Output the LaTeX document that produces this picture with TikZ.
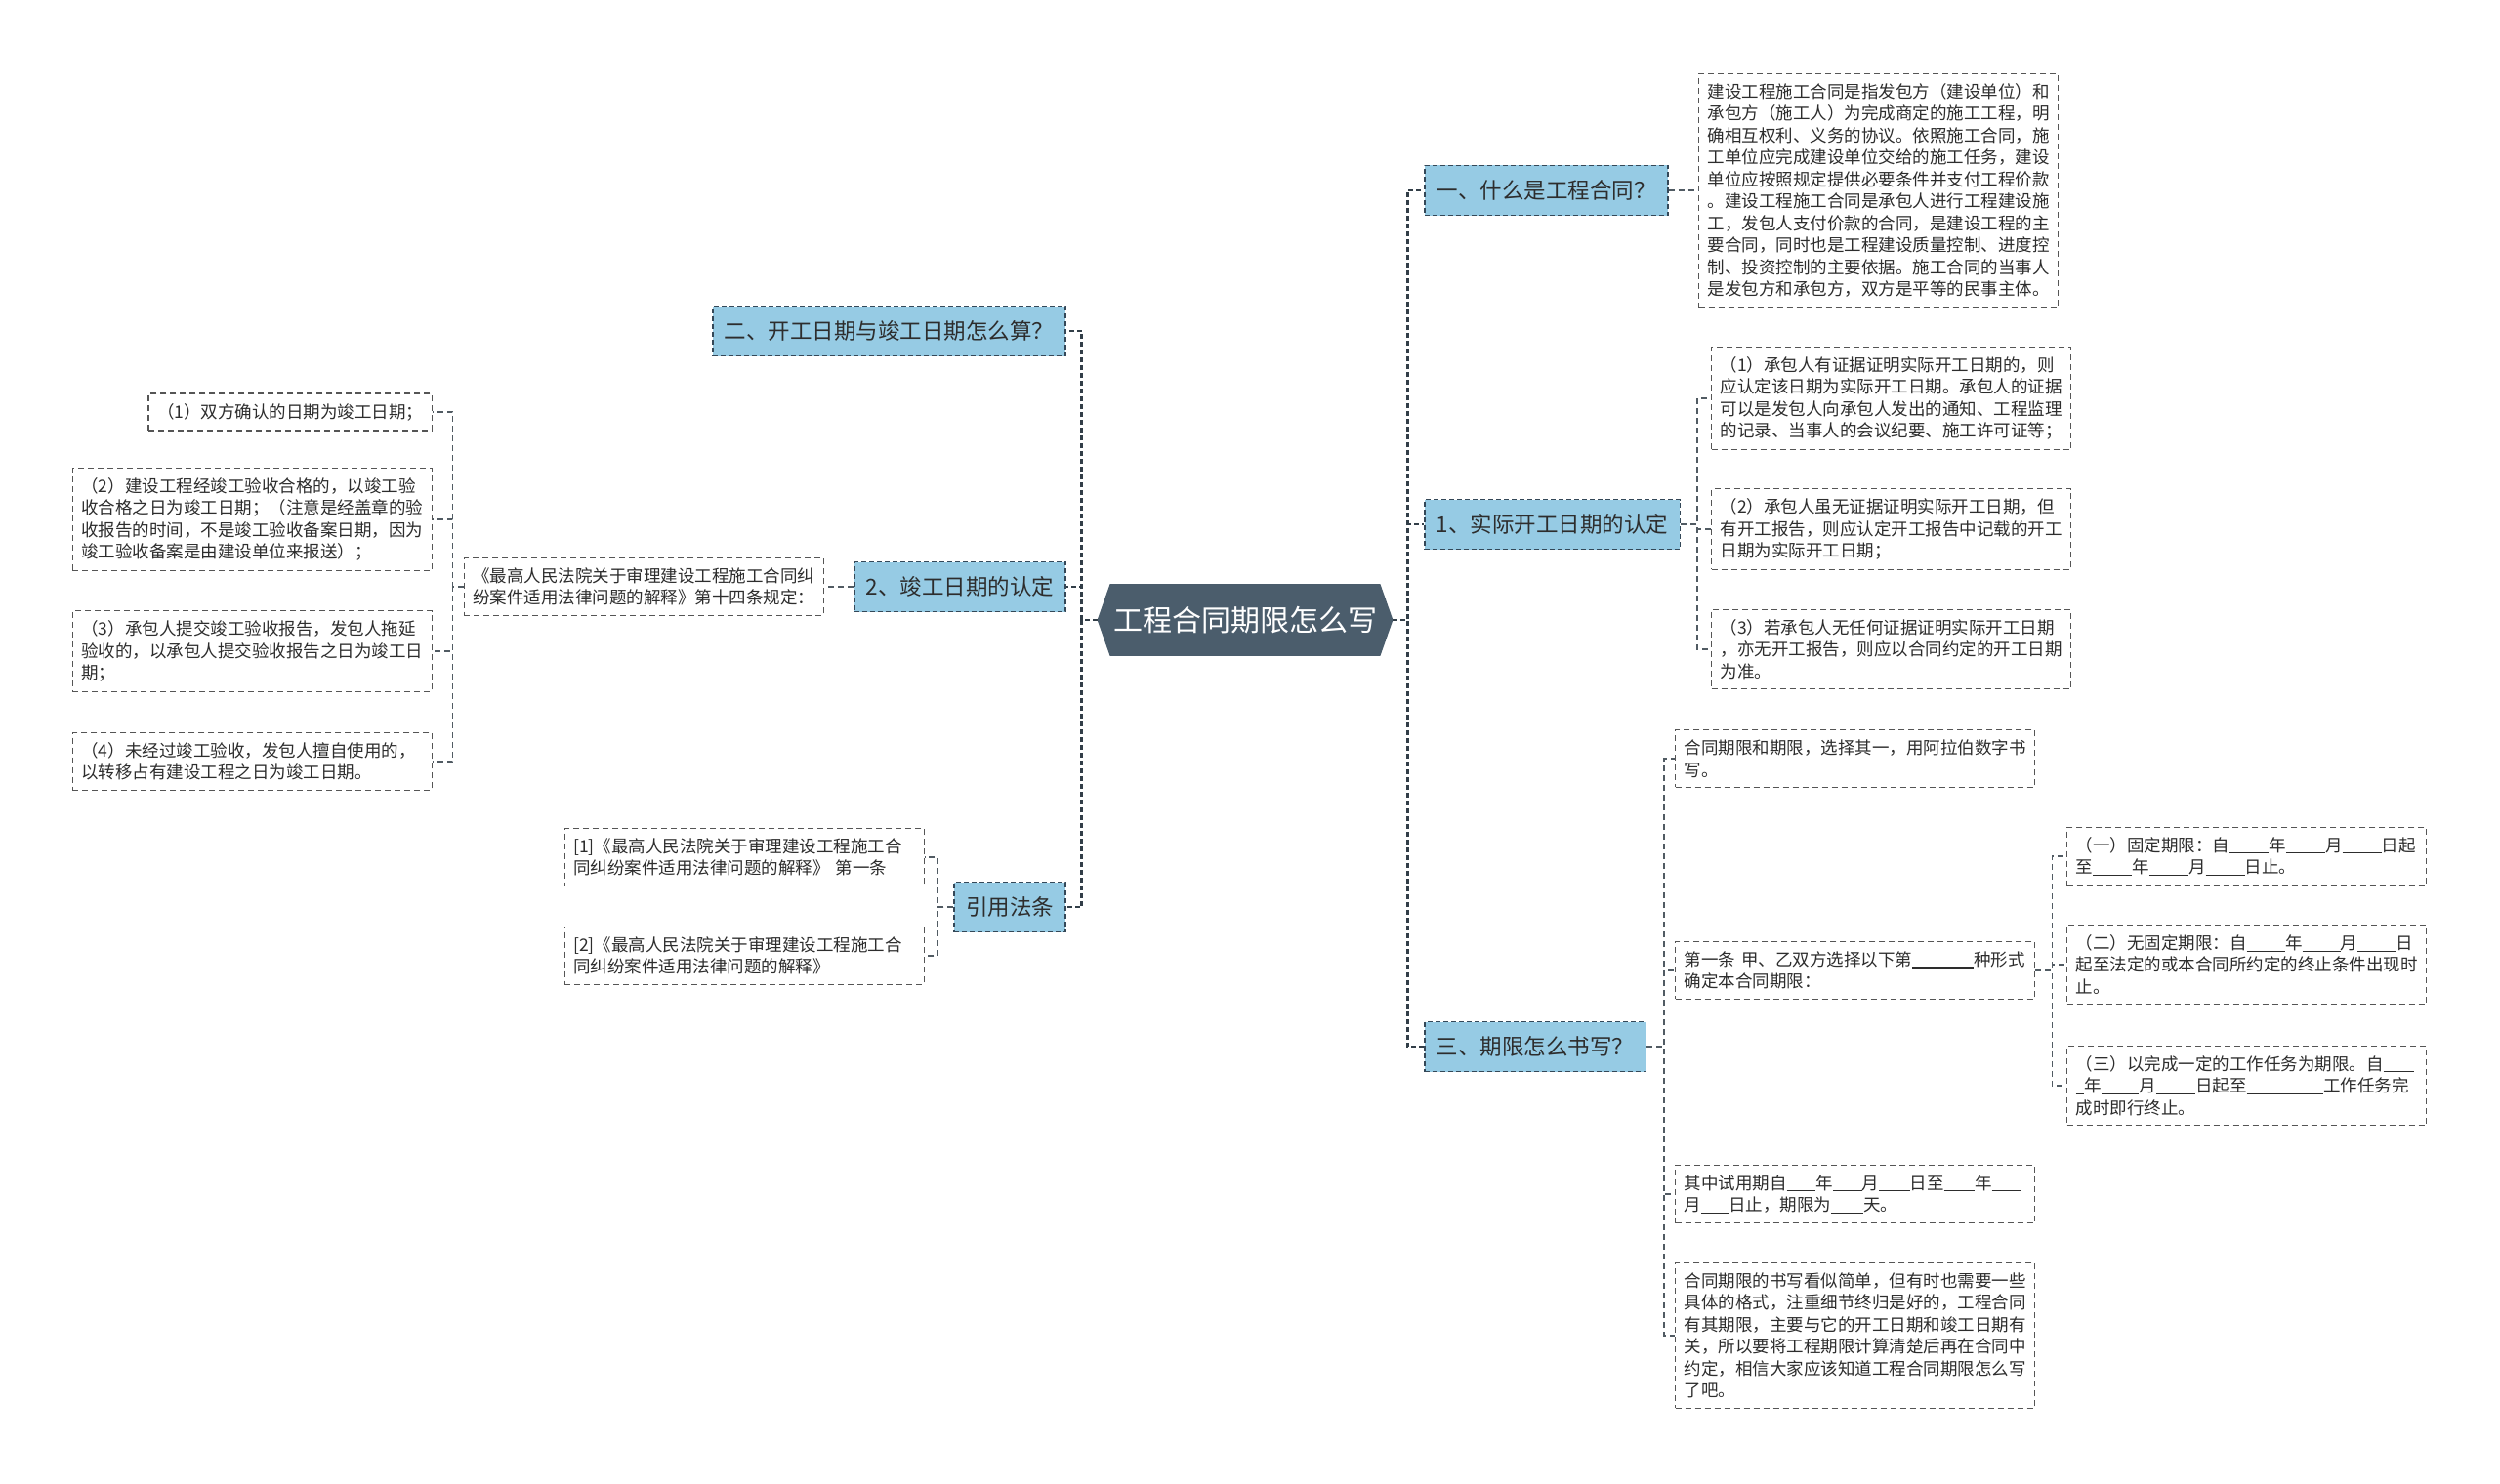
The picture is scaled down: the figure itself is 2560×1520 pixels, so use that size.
\documentclass[tikz,border=0pt]{standalone}
\usepackage{fontspec}
\setmainfont{Noto Sans CJK SC}
\usetikzlibrary{positioning,backgrounds,calc}
\definecolor{rootfill}{RGB}{75,93,108}
\definecolor{topicfill}{RGB}{150,203,228}
\definecolor{topicline}{RGB}{52,72,88}
\definecolor{leafline}{RGB}{85,85,85}
\definecolor{linkcol}{RGB}{50,62,72}
\definecolor{inkcol}{RGB}{45,45,45}
% blank line to fill in
\newcommand{\blank}[1]{\rule[-0.12em]{#1em}{0.06em}}

\begin{document}
\begin{tikzpicture}[x=0.5pt,y=-0.5pt,
    root/.style={rectangle, draw=none, text=white,
                 font=\fontsize{15}{18}\selectfont,
                 minimum width=151pt, minimum height=36.5pt, inner sep=0pt},
    topic/.style={rectangle, draw=topicline, fill=topicfill,
                  dash pattern=on 2.5pt off 1.5pt, line width=0.8pt,
                  text=inkcol, font=\fontsize{11.25}{13}\selectfont,
                  minimum height=25.5pt, inner xsep=6pt},
    leaf/.style={rectangle, draw=leafline, fill=white,
                 dash pattern=on 3pt off 2pt, line width=0.7pt,
                 text=inkcol, align=left,
                 font=\fontsize{8.75}{11.25}\selectfont,
                 inner xsep=4.5pt, inner ysep=5pt},
    wide/.style={leaf, text width=175pt},
    trunk/.style={draw=linkcol, line width=1.2pt,
                  dash pattern=on 2.5pt off 1.5pt},
    link/.style={draw=linkcol!85, line width=0.7pt,
                 dash pattern=on 3pt off 2pt},
]

\useasboundingbox (0,0) rectangle (2560,1520);
\begin{scope}[on background layer]
  \fill[white] (0,0) rectangle (2560,1520);
\end{scope}

% ==========================================================
% Central topic
% ==========================================================
\node[root] (root) at (1275,635) {工程合同期限怎么写};
\begin{scope}[on background layer]
  \fill[rootfill] (root.west) -- ($(root.north west)+(13,0)$)
    -- ($(root.north east)+(-13,0)$) -- (root.east)
    -- ($(root.south east)+(-13,0)$) -- ($(root.south west)+(13,0)$)
    -- cycle;
\end{scope}

% ==========================================================
% Right branches
% ==========================================================
\node[topic, anchor=west] (what)  at (1458,195)  {一、什么是工程合同？};
\node[topic, anchor=west] (start) at (1458,537)  {1、实际开工日期的认定};
\node[topic, anchor=west] (write) at (1458,1072) {三、期限怎么书写？};

\draw[trunk] (root.east) -- ++(15,0) |- (what.west);
\draw[trunk] (root.east) -- ++(15,0) |- (start.west);
\draw[trunk] (root.east) -- ++(15,0) |- (write.west);

% -------- definition -----------
\node[wide, anchor=west] (define) at (1739,195)
  {建设工程施工合同是指发包方（建设单位）和\\
   承包方（施工人）为完成商定的施工工程，明\\
   确相互权利、义务的协议。依照施工合同，施\\
   工单位应完成建设单位交给的施工任务，建设\\
   单位应按照规定提供必要条件并支付工程价款\\
   。建设工程施工合同是承包人进行工程建设施\\
   工，发包人支付价款的合同，是建设工程的主\\
   要合同，同时也是工程建设质量控制、进度控\\
   制、投资控制的主要依据。施工合同的当事人\\
   是发包方和承包方，双方是平等的民事主体。};
\draw[link] (what.east) -- (define.west);

% -------- actual start date -----------
\node[wide, anchor=west] (startA) at (1752,408)
  {（1）承包人有证据证明实际开工日期的，则\\
   应认定该日期为实际开工日期。承包人的证据\\
   可以是发包人向承包人发出的通知、工程监理\\
   的记录、当事人的会议纪要、施工许可证等；};
\node[wide, anchor=west] (startB) at (1752,542)
  {（2）承包人虽无证据证明实际开工日期，但\\
   有开工报告，则应认定开工报告中记载的开工\\
   日期为实际开工日期；};
\node[wide, anchor=west] (startC) at (1752,665)
  {（3）若承包人无任何证据证明实际开工日期\\
   ，亦无开工报告，则应以合同约定的开工日期\\
   为准。};
\foreach \n in {startA,startB,startC}
  \draw[link] (start.east) -- ++(17,0) |- (\n.west);

% -------- how to write the term -----------
\node[wide, anchor=west] (termA) at (1715,777)
  {合同期限和期限，选择其一，用阿拉伯数字书\\
   写。};
\node[wide, anchor=west] (termB) at (1715,994)
  {第一条~甲、乙双方选择以下第\blank{3.6}种形式\\
   确定本合同期限：};
\node[wide, anchor=west] (termC) at (1715,1223)
  {其中试用期自\blank{1.7}年\blank{1.7}月\blank{1.8}日至\blank{1.8}年\blank{1.7}\\
   月\blank{1.6}日止，期限为\blank{1.9}天。};
\node[wide, anchor=west] (termD) at (1715,1368)
  {合同期限的书写看似简单，但有时也需要一些\\
   具体的格式，注重细节终归是好的，工程合同\\
   有其期限，主要与它的开工日期和竣工日期有\\
   关，所以要将工程期限计算清楚后再在合同中\\
   约定，相信大家应该知道工程合同期限怎么写\\
   了吧。};
\foreach \n in {termA,termB,termC,termD}
  \draw[link] (write.east) -- ++(18,0) |- (\n.west);

% three forms of the term
\node[wide, anchor=west] (formA) at (2116,877)
  {（一）固定期限：自\blank{2.3}年\blank{2.3}月\blank{2.3}日起\\
   至\blank{2.3}年\blank{2.3}月\blank{2.3}日止。};
\node[wide, anchor=west] (formB) at (2116,988)
  {（二）无固定期限：自\blank{2.25}年\blank{2.25}月\blank{2.25}日\\
   起至法定的或本合同所约定的终止条件出现时\\
   止。};
\node[wide, anchor=west] (formC) at (2116,1112)
  {（三）以完成一定的工作任务为期限。自\blank{1.8}\\
   \blank{0.5}年\blank{2.2}月\blank{2.3}日起至\blank{4.5}工作任务完\\
   成时即行终止。};
\foreach \n in {formA,formB,formC}
  \draw[link] (termB.east) -- ++(17,0) |- (\n.west);

% ==========================================================
% Left branches
% ==========================================================
\node[topic, anchor=east] (calc)   at (1092,339) {二、开工日期与竣工日期怎么算？};
\node[topic, anchor=east] (finish) at (1092,601) {2、竣工日期的认定};
\node[topic, anchor=east] (cite)   at (1092,929) {引用法条};

\draw[trunk] (root.west) -- ++(-16,0) |- (calc.east);
\draw[trunk] (root.west) -- ++(-16,0) |- (finish.east);
\draw[trunk] (root.west) -- ++(-16,0) |- (cite.east);

% -------- completion date -----------
\node[leaf, anchor=east] (rule) at (844,601)
  {《最高人民法院关于审理建设工程施工合同纠\\
   纷案件适用法律问题的解释》第十四条规定：};
\draw[link] (finish.west) -- (rule.east);

\node[leaf, anchor=east] (endA) at (443,422)
  {（1）双方确认的日期为竣工日期；};
\node[wide, anchor=east] (endB) at (443,532)
  {（2）建设工程经竣工验收合格的，以竣工验\\
   收合格之日为竣工日期；（注意是经盖章的验\\
   收报告的时间，不是竣工验收备案日期，因为\\
   竣工验收备案是由建设单位来报送）；};
\node[wide, anchor=east] (endC) at (443,667)
  {（3）承包人提交竣工验收报告，发包人拖延\\
   验收的，以承包人提交验收报告之日为竣工日\\
   期；};
\node[wide, anchor=east] (endD) at (443,780)
  {（4）未经过竣工验收，发包人擅自使用的，\\
   以转移占有建设工程之日为竣工日期。};
\foreach \n in {endA,endB,endC,endD}
  \draw[link] (rule.west) -- ++(-11,0) |- (\n.east);

% -------- cited articles -----------
\node[wide, anchor=east] (lawA) at (947,878)
  {[1]《最高人民法院关于审理建设工程施工合\\
   同纠纷案件适用法律问题的解释》~第一条};
\node[wide, anchor=east] (lawB) at (947,979)
  {[2]《最高人民法院关于审理建设工程施工合\\
   同纠纷案件适用法律问题的解释》};
\foreach \n in {lawA,lawB}
  \draw[link] (cite.west) -- ++(-16,0) |- (\n.east);

\end{tikzpicture}
\end{document}
